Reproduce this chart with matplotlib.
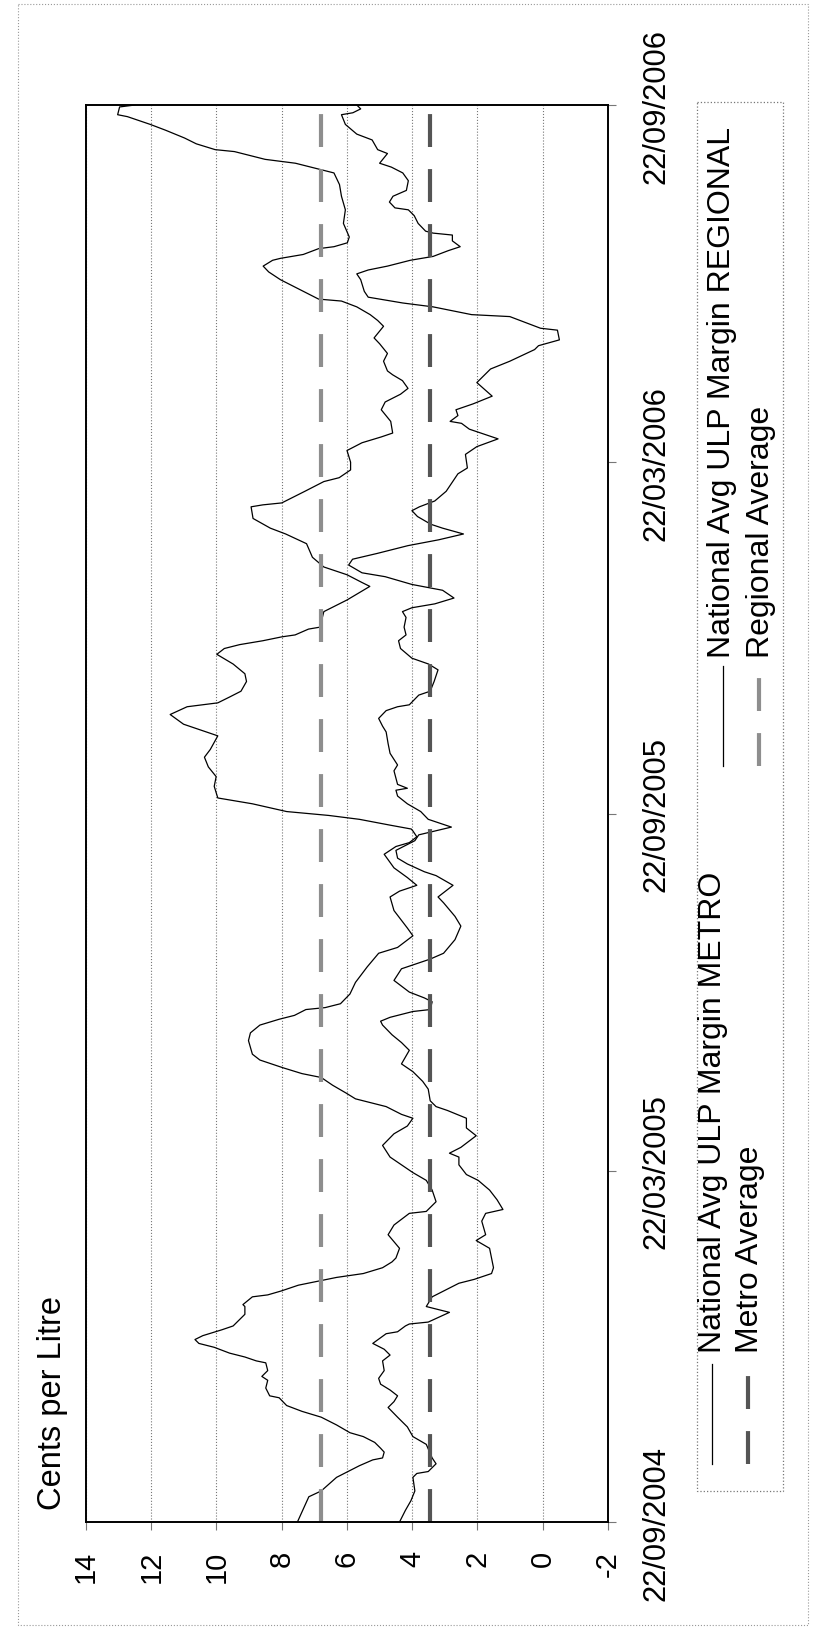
import numpy as np
import matplotlib
matplotlib.use("Agg")
import matplotlib.pyplot as plt
import matplotlib.dates as mdates
from matplotlib.patches import Rectangle

plt.rcParams['font.family'] = ['Liberation Sans', 'DejaVu Sans']

start = np.datetime64('2004-09-22')

# Regional margin, cents per litre (day offset from 22/09/2004, value)
regional_days = [
    0, 13, 16, 23, 29, 32, 33, 36, 38, 41, 44, 46, 50, 54, 57, 60, 64, 65, 69, 73,
    75, 78, 82, 83, 85, 87, 90, 92, 94, 96, 99, 101, 104, 107, 111, 112, 116, 117, 119, 122,
    124, 126, 128, 131, 134, 136, 141, 148, 153, 159, 160, 165, 171, 176, 180, 184, 188, 194, 200, 204,
    208, 210, 214, 216, 218, 221, 225, 229, 231, 234, 238, 241, 248, 252, 256, 259, 261, 264, 265, 267,
    272, 278, 286, 293, 296, 302, 306, 315, 322, 325, 328, 332, 337, 344, 348, 350, 353, 356, 357, 359,
    362, 364, 366, 368, 370, 373, 379, 384, 389, 394, 398, 405, 407, 411, 416, 420, 422, 425, 428, 433,
    437, 442, 447, 450, 452, 454, 456, 457, 460, 461, 469, 475, 482, 484, 488, 492, 497, 504, 509, 512,
    517, 523, 524, 525, 531, 536, 538, 542, 546, 552, 556, 559, 561, 567, 573, 577, 581, 584, 588, 591,
    593, 598, 602, 607, 610, 616, 619, 622, 626, 629, 630, 634, 640, 644, 647, 650, 651, 653, 656, 657,
    659, 662, 669, 676, 683, 689, 695, 700, 702, 706, 707, 710, 713, 717, 720, 724, 725, 729, 730,
]
regional_vals = [
    7.52, 7.17, 6.79, 6.32, 5.62, 5.21, 4.91, 4.86, 4.97, 5.15, 5.50, 5.91, 6.32, 6.79, 7.38, 7.85, 8.08, 8.37, 8.49, 8.43,
    8.61, 8.43, 8.49, 8.78, 9.13, 9.60, 10.07, 10.54, 10.66, 10.42, 9.84, 9.49, 9.31, 9.13, 9.13, 9.19, 8.90, 8.43, 8.02, 7.49,
    6.91, 6.32, 5.50, 4.91, 4.62, 4.50, 4.39, 4.74, 4.56, 4.09, 3.57, 3.27, 3.39, 3.57, 3.98, 4.33, 4.68, 4.91, 4.56, 4.15,
    3.98, 4.33, 4.80, 5.27, 5.74, 6.03, 6.44, 6.79, 7.38, 7.96, 8.67, 8.90, 9.02, 8.96, 8.67, 8.08, 7.61, 7.26, 6.67, 6.20,
    5.91, 5.74, 5.38, 5.03, 4.45, 3.98, 4.15, 4.56, 4.68, 4.39, 3.86, 4.15, 4.56, 4.86, 4.50, 4.09, 3.86, 3.98, 4.03, 4.68,
    5.62, 6.56, 7.85, 8.37, 8.90, 9.96, 10.07, 10.01, 10.25, 10.37, 10.19, 9.96, 10.31, 11.01, 11.42, 10.90, 9.96, 9.60, 9.25, 9.08,
    9.13, 9.49, 9.99, 9.76, 9.29, 8.58, 8.00, 7.59, 7.18, 6.83, 6.71, 6.00, 5.30, 5.54, 6.00, 6.71, 7.06, 7.24, 7.88, 8.35,
    8.88, 8.94, 8.58, 8.00, 7.29, 6.71, 6.24, 5.89, 5.89, 6.00, 5.54, 4.95, 4.60, 4.66, 4.95, 4.83, 4.36, 4.13, 4.30, 4.60,
    4.76, 4.88, 4.76, 5.00, 5.17, 4.88, 5.06, 5.29, 5.70, 6.17, 6.87, 7.34, 8.04, 8.40, 8.57, 8.28, 8.04, 7.34, 6.87, 6.40,
    5.99, 5.93, 6.11, 6.05, 6.17, 6.23, 6.40, 7.58, 8.51, 9.45, 10.04, 10.62, 10.98, 11.56, 12.03, 12.73, 13.03, 12.97, 12.50,
]

# Metro margin, cents per litre
metro_days = [
    0, 6, 11, 16, 23, 25, 26, 30, 33, 40, 44, 49, 54, 59, 62, 65, 68, 71, 74, 78,
    83, 86, 89, 92, 97, 98, 101, 102, 103, 108, 111, 116, 119, 123, 125, 128, 131, 136, 141, 145,
    148, 155, 159, 161, 166, 171, 176, 179, 184, 188, 190, 193, 199, 203, 208, 212, 214, 217, 223, 227,
    232, 236, 243, 247, 251, 256, 258, 260, 263, 264, 268, 270, 273, 279, 285, 287, 290, 293, 300, 307,
    312, 319, 322, 328, 333, 335, 339, 342, 346, 348, 351, 354, 358, 362, 366, 370, 374, 377, 378, 380,
    387, 390, 396, 401, 407, 410, 414, 418, 420, 421, 426, 428, 433, 439, 442, 445, 450, 454, 457, 461,
    466, 469, 471, 473, 476, 480, 483, 487, 489, 493, 496, 499, 503, 506, 509, 512, 514, 518, 521, 523,
    526, 531, 540, 543, 550, 554, 558, 561, 563, 566, 567, 570, 573, 576, 580, 587, 594, 598, 604, 606,
    609, 614, 615, 621, 622, 626, 628, 631, 634, 640, 643, 645, 647, 650, 652, 655, 657, 660, 663, 664,
    665, 669, 673, 676, 677, 680, 683, 686, 691, 695, 698, 700, 705, 707, 712, 715, 720, 725, 726, 728,
    730,
]
metro_vals = [
    4.39, 4.21, 4.04, 3.92, 3.98, 3.86, 3.51, 3.27, 3.39, 3.57, 3.98, 4.15, 4.45, 4.74, 4.56, 4.45, 4.68, 4.97, 5.03, 4.86,
    4.91, 4.68, 4.86, 5.21, 4.80, 4.45, 4.21, 4.09, 3.51, 2.86, 3.57, 3.39, 3.04, 2.57, 2.10, 1.57, 1.51, 1.57, 1.63, 2.04,
    1.75, 1.87, 1.75, 1.22, 1.40, 1.63, 1.98, 2.34, 2.57, 2.57, 2.86, 2.51, 2.04, 2.34, 2.34, 2.92, 3.27, 3.45, 3.51, 3.68,
    3.98, 4.33, 4.09, 4.33, 4.62, 4.91, 4.97, 4.68, 3.98, 3.45, 3.39, 3.63, 4.09, 4.56, 4.33, 3.98, 3.45, 3.04, 2.69, 2.51,
    2.69, 3.04, 3.21, 2.75, 3.27, 3.63, 4.15, 4.45, 4.50, 4.27, 3.92, 3.80, 2.80, 3.51, 3.74, 4.15, 4.45, 4.50, 4.15, 4.45,
    4.56, 4.45, 4.68, 4.74, 4.80, 4.91, 5.03, 4.80, 4.45, 4.09, 3.80, 3.45, 3.33, 3.21, 3.50, 4.01, 4.36, 4.42, 4.19, 4.25,
    4.19, 4.30, 4.01, 3.31, 2.72, 3.07, 4.01, 4.83, 5.54, 5.95, 5.83, 5.07, 4.13, 3.19, 2.43, 3.07, 3.43, 3.84, 4.01, 3.78,
    3.31, 2.96, 2.60, 2.31, 2.37, 2.02, 1.37, 1.90, 2.25, 2.49, 2.84, 2.60, 2.66, 2.14, 1.55, 2.02, 1.60, 1.01, 0.25, 0.13,
    -0.51, -0.45, 0.07, 1.01, 2.18, 3.36, 4.29, 5.35, 5.47, 5.58, 5.70, 5.35, 4.76, 4.06, 3.36, 2.89, 2.53, 2.77, 2.77, 3.36,
    3.59, 3.82, 3.94, 4.12, 4.53, 4.70, 4.59, 4.18, 4.12, 4.29, 4.64, 5.00, 4.76, 5.06, 5.23, 5.70, 6.05, 6.17, 5.82, 5.58,
    5.70,
]

metro_avg = 3.46
regional_avg = 6.80

value_ticks = [14, 12, 10, 8, 6, 4, 2, 0, -2]
value_labels = ['14', '12', '10', '8', '6', '4', '2', '0', '-2']
date_ticks = ['2004-09-22', '2005-03-22', '2005-09-22', '2006-03-22', '2006-09-22']
date_labels = ['22/09/2004', '22/03/2005', '22/09/2005', '22/03/2006', '22/09/2006']

legend_names = ['National Avg ULP Margin METRO', 'National Avg ULP Margin REGIONAL',
                'Metro Average', 'Regional Average']

metro_avg_color = '#555555'
regional_avg_color = '#8e8e8e'
avg_lw = 3.0
avg_dashes = (7.9, 5.3)

W, H = 819, 1631
fig = plt.figure(figsize=(W / 100, H / 100), dpi=100)
fig.patch.set_facecolor('white')

# page is laid out on its side: values run across, dates run up the page
ax = fig.add_axes([86 / W, 1 - 1523 / H, (608 - 86) / W, (1523 - 106) / H])

reg_dates = start + np.array(regional_days).astype('timedelta64[D]')
met_dates = start + np.array(metro_days).astype('timedelta64[D]')
end = start + np.timedelta64(730, 'D')

ax.plot(regional_vals, reg_dates, color='black', lw=0.9)
ax.plot(metro_vals, met_dates, color='black', lw=0.9)
ax.plot([metro_avg, metro_avg], [start, end], color=metro_avg_color, lw=avg_lw, dashes=avg_dashes)
ax.plot([regional_avg, regional_avg], [start, end], color=regional_avg_color, lw=avg_lw, dashes=avg_dashes)

ax.set_xlim(14, -2)
ax.set_ylim(mdates.date2num(start), mdates.date2num(end))

ax.set_xticks(value_ticks)
ax.set_xticklabels(value_labels, rotation=90)
ax.tick_params(axis='x', direction='out', length=6, width=0.8, color='#777777',
               pad=14, labelsize=21)

ax.yaxis.tick_right()
ax.set_yticks(mdates.date2num(np.array(date_ticks, dtype='datetime64[D]')))
ax.set_yticklabels(date_labels, rotation=90, va='center')
ax.tick_params(axis='y', direction='out', length=6, width=0.8, color='#777777',
               pad=18, labelsize=22.3)

ax.grid(axis='x', linestyle=':', color='#777777', lw=0.8)
ax.grid(axis='y', visible=False)
for sp in ax.spines.values():
    sp.set_color('black')
    sp.set_linewidth(1.4)

# overlay in pixel units for the axis title, legend and page frame
ov = fig.add_axes([0, 0, 1, 1])
ov.set_xlim(0, W)
ov.set_ylim(H, 0)
ov.axis('off')
ov.patch.set_visible(False)

ov.add_patch(Rectangle((18, 5), 790, 1621, fill=False, ls=':', ec='#999999', lw=0.8))
ov.text(37, 1510, 'Cents per Litre', rotation=90, ha='left', va='bottom', fontsize=23.5)

ov.add_patch(Rectangle((697, 103), 86, 1389, fill=False, ls=':', ec='#777777', lw=0.9))

# METRO column of the legend
ov.plot([712, 712], [1465, 1365], color='black', lw=0.9)
ov.text(698, 1353, legend_names[0], rotation=90, ha='left', va='bottom', fontsize=23)
ov.plot([748, 748], [1465, 1365], color=metro_avg_color, lw=avg_lw, dashes=avg_dashes)
ov.text(735, 1353, legend_names[2], rotation=90, ha='left', va='bottom', fontsize=23)

# REGIONAL column of the legend
ov.plot([723, 723], [767, 667], color='black', lw=0.9)
ov.text(707, 658, legend_names[1], rotation=90, ha='left', va='bottom', fontsize=23)
ov.plot([759, 759], [767, 667], color=regional_avg_color, lw=avg_lw, dashes=avg_dashes)
ov.text(746, 658, legend_names[3], rotation=90, ha='left', va='bottom', fontsize=23)

fig.savefig('out.png', dpi=100, facecolor='white')
